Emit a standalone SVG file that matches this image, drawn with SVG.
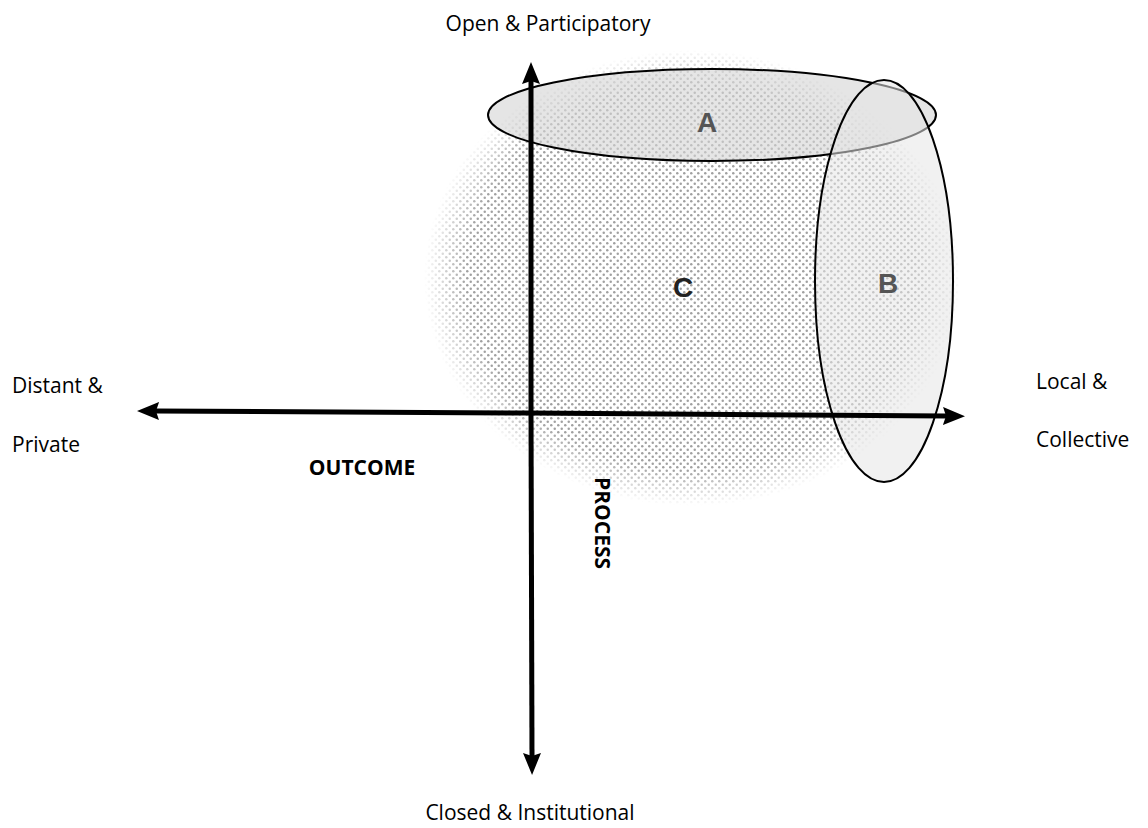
<svg xmlns="http://www.w3.org/2000/svg" width="1148" height="828" viewBox="0 0 1148 828">
<style>
.lbl{font-family:"Open Sans","Liberation Sans",sans-serif;font-size:21px;fill:#000}
.bold{font-weight:bold}
.let{font-family:"Liberation Sans",Arial,sans-serif;font-size:28px;font-weight:bold;text-anchor:middle}
.ring{stroke:#000;stroke-width:2}
.axis{stroke:#000;stroke-width:5;fill:none}
</style>
<defs>
<pattern id="dots" width="7" height="7" patternUnits="userSpaceOnUse">
<circle cx="1.75" cy="1.75" r="1.25" fill="#a0a0a0"/>
<circle cx="5.25" cy="5.25" r="1.25" fill="#a0a0a0"/>
</pattern>
<radialGradient id="fade" cx="0.5" cy="0.5" r="0.5">
<stop offset="0.84" stop-color="#fff"/>
<stop offset="1" stop-color="#000"/>
</radialGradient>
<mask id="cmask" maskUnits="userSpaceOnUse" x="0" y="0" width="1148" height="828">
<ellipse cx="692" cy="278" rx="268" ry="228" fill="url(#fade)"/>
</mask>
<marker id="ah" markerWidth="22" markerHeight="18" refX="3" refY="9" orient="auto" markerUnits="userSpaceOnUse">
<path d="M0,0 L22,9 L0,18 L3,9 Z" fill="#000"/>
</marker>
</defs>
<rect width="1148" height="828" fill="#fff"/>
<g id="C">
<rect x="420" y="45" width="545" height="465" fill="url(#dots)" mask="url(#cmask)"/>
<text class="let" x="683" y="297" fill="#222">C</text>
</g>
<g id="A">
<ellipse class="ring" cx="712" cy="115" rx="224" ry="46" fill="#d4d4d4" fill-opacity="0.6"/>
<text class="let" x="707" y="132" fill="#555">A</text>
</g>
<g id="B">
<ellipse class="ring" cx="884" cy="281" rx="69" ry="201" fill="#e6e6e6" fill-opacity="0.55"/>
<text class="let" x="888" y="293" fill="#555">B</text>
</g>
<g id="connectors">
<line class="axis" x1="530" y1="413" x2="946" y2="416" marker-end="url(#ah)"/>
<line class="axis" x1="530" y1="413" x2="156" y2="411" marker-end="url(#ah)"/>
<line class="axis" x1="531" y1="413" x2="531" y2="81" marker-end="url(#ah)"/>
<line class="axis" x1="531" y1="413" x2="532" y2="756" marker-end="url(#ah)"/>
</g>
<g id="labels">
<text class="lbl" x="548" y="31" text-anchor="middle">Open &amp; Participatory</text>
<text class="lbl" x="530" y="820" text-anchor="middle">Closed &amp; Institutional</text>
<text class="lbl" x="12" y="393">Distant &amp;</text>
<text class="lbl" x="12" y="452">Private</text>
<text class="lbl" x="1036" y="389">Local &amp;</text>
<text class="lbl" x="1036" y="447">Collective</text>
<text class="lbl bold" x="362" y="475" text-anchor="middle">OUTCOME</text>
<text class="lbl bold" transform="translate(595,523) rotate(90)" text-anchor="middle">PROCESS</text>
</g>
</svg>
